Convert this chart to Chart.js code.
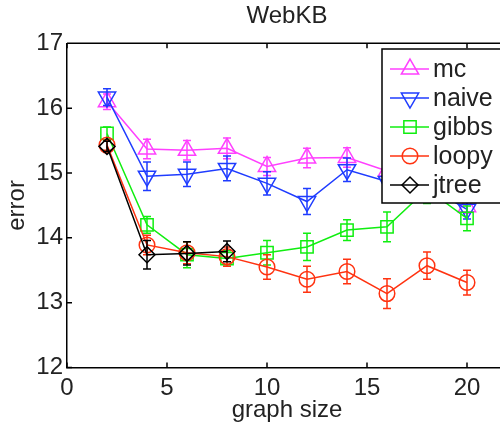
<!DOCTYPE html>
<html>
<head>
<meta charset="utf-8">
<script src="https://cdn.jsdelivr.net/npm/chart.js@4/dist/chart.umd.min.js"></script>
<style>
  html, body { margin: 0; padding: 0; background: #fff; overflow: hidden; }
  #wrap { width: 574px; height: 428px; }
</style>
</head>
<body>
<div id="wrap"><canvas id="myChart"></canvas></div>
<script>
// values
const graphSize = [2, 4, 6, 8, 10, 12, 14, 16, 18, 20];
const xTicks = [0, 5, 10, 15, 20];
const yTicks = [12, 13, 14, 15, 16, 17];

const mc = [16.10, 15.37, 15.35, 15.38, 15.10, 15.23, 15.24, 15.03, 15.05, 14.48];
const mcErr = [0.12, 0.15, 0.15, 0.16, 0.14, 0.15, 0.15, 0.15, 0.15, 0.10];
const naive = [16.17, 14.95, 14.98, 15.07, 14.84, 14.56, 15.05, 14.87, 14.80, 14.44];
const naiveErr = [0.13, 0.22, 0.19, 0.19, 0.18, 0.20, 0.18, 0.20, 0.20, 0.15];
const gibbs = [15.61, 14.20, 13.74, 13.68, 13.77, 13.86, 14.12, 14.17, 14.75, 14.30];
const gibbsErr = [0.10, 0.13, 0.20, 0.12, 0.19, 0.21, 0.16, 0.23, 0.22, 0.19];
const loopy = [15.43, 13.89, 13.77, 13.71, 13.55, 13.36, 13.48, 13.14, 13.57, 13.31];
const loopyErr = [0.08, 0.15, 0.17, 0.15, 0.19, 0.20, 0.19, 0.23, 0.21, 0.19];
const jtree = [15.41, 13.74, 13.76, 13.79];
const jtreeErr = [0.08, 0.22, 0.18, 0.16];

const FONT = "'Liberation Sans', Arial, sans-serif";
const TEXT = '#222';

function pts(ys) {
    return ys.map((v, i) => ({x: graphSize[i], y: v}));
}

function serie(label, ys, errs, color, style, radius, rot, order) {
    return {
        label: label,
        data: pts(ys),
        errors: errs,
        borderColor: color,
        borderWidth: 1.5,
        backgroundColor: 'rgba(0,0,0,0)',
        pointStyle: style,
        pointRadius: radius,
        pointHoverRadius: radius,
        pointRotation: rot,
        pointBorderColor: color,
        pointBackgroundColor: 'rgba(0,0,0,0)',
        pointBorderWidth: 1.5,
        tension: 0,
        order: order
    };
}

const datasets = [
    serie('mc', mc, mcErr, '#ff40ff', 'triangle', 10, 0, 5),
    serie('naive', naive, naiveErr, '#1f3cff', 'triangle', 10, 180, 4),
    serie('gibbs', gibbs, gibbsErr, '#10ee10', 'rect', 8.7, 0, 3),
    serie('loopy', loopy, loopyErr, '#ff3311', 'circle', 7.8, 0, 2),
    serie('jtree', jtree, jtreeErr, '#000000', 'rectRot', 8, 0, 1)
];

// error bars, drawn right after their own line so the stacking matches
const errorBars = {
    id: 'errorBars',
    afterDatasetDraw(chart, args) {
        const ds = chart.data.datasets[args.index];
        const ctx = chart.ctx;
        const x = chart.scales.x, y = chart.scales.y;
        ctx.save();
        ctx.strokeStyle = ds.borderColor;
        ctx.lineWidth = 1.5;
        ds.data.forEach((p, i) => {
            const px = x.getPixelForValue(p.x);
            const top = y.getPixelForValue(p.y + ds.errors[i]);
            const bot = y.getPixelForValue(p.y - ds.errors[i]);
            ctx.beginPath();
            ctx.moveTo(px, top); ctx.lineTo(px, bot);
            ctx.moveTo(px - 4, top); ctx.lineTo(px + 4, top);
            ctx.moveTo(px - 4, bot); ctx.lineTo(px + 4, bot);
            ctx.stroke();
        });
        ctx.restore();
    }
};

// matlab style box: top edge and inward ticks
const frame = {
    id: 'frame',
    beforeDatasetsDraw(chart) {
        const ctx = chart.ctx;
        const a = chart.chartArea;
        const x = chart.scales.x, y = chart.scales.y;
        ctx.save();
        ctx.strokeStyle = '#000';
        ctx.lineWidth = 1.5;
        ctx.beginPath();
        ctx.moveTo(a.left, a.top); ctx.lineTo(a.right, a.top);
        ctx.moveTo(a.right, a.top); ctx.lineTo(a.right, a.bottom);
        xTicks.forEach(t => {
            const px = x.getPixelForValue(t);
            ctx.moveTo(px, a.bottom); ctx.lineTo(px, a.bottom - 5);
            ctx.moveTo(px, a.top); ctx.lineTo(px, a.top + 5);
        });
        yTicks.forEach(t => {
            const py = y.getPixelForValue(t);
            ctx.moveTo(a.left, py); ctx.lineTo(a.left + 5, py);
        });
        ctx.stroke();
        ctx.restore();
    }
};

// legend box in the upper right corner, like the matlab one
const boxLegend = {
    id: 'boxLegend',
    afterDraw(chart) {
        const ctx = chart.ctx;
        const bx = 382, by = 49, bw = 160, bh = 154;
        ctx.save();
        ctx.fillStyle = '#fff';
        ctx.fillRect(bx, by, bw, bh);
        ctx.strokeStyle = '#000';
        ctx.lineWidth = 1.5;
        ctx.strokeRect(bx, by, bw, bh);
        const rowY = [69, 98, 127, 156, 185];
        chart.data.datasets.forEach((ds, i) => {
            const yy = rowY[i];
            ctx.strokeStyle = ds.borderColor;
            ctx.lineWidth = 1.5;
            ctx.beginPath();
            ctx.moveTo(390, yy); ctx.lineTo(429, yy);
            ctx.stroke();
            ctx.fillStyle = 'rgba(0,0,0,0)';
            Chart.helpers.drawPoint(ctx, {
                pointStyle: ds.pointStyle, radius: ds.pointRadius,
                rotation: ds.pointRotation, borderWidth: 1.5
            }, 410, yy);
            ctx.fillStyle = TEXT;
            ctx.font = '25px ' + FONT;
            ctx.textAlign = 'left';
            ctx.textBaseline = 'middle';
            ctx.fillText(ds.label, 433, yy + 1);
        });
        ctx.restore();
    }
};

const ctx = document.getElementById('myChart').getContext('2d');
const myChart = new Chart(ctx, {
    type: 'line',
    data: { datasets: datasets },
    plugins: [errorBars, frame, boxLegend],
    options: {
        responsive: true,
        maintainAspectRatio: false,
        animation: false,
        layout: { padding: { left: 0, right: 67, top: 0, bottom: 0 }, autoPadding: false },
        plugins: {
            legend: { display: false },
            tooltip: { enabled: false },
            title: {
                display: true,
                fullSize: false,   // centre the title over the axes
                text: 'WebKB',
                color: TEXT,
                font: { family: FONT, size: 24, weight: 'normal' },
                padding: { top: 2, bottom: 12.5 }
            }
        },
        scales: {
            x: {
                type: 'linear',
                min: 0,
                max: 22,
                afterFit: (s) => { s.height = 60.5; },
                afterBuildTicks: (s) => { s.ticks = xTicks.map(v => ({value: v})); },
                grid: { drawOnChartArea: false, drawTicks: false },
                border: { display: true, color: '#000', width: 1.5 },
                ticks: { color: TEXT, padding: 6, font: { family: FONT, size: 24 } },
                title: {
                    display: true, text: 'graph size', color: TEXT,
                    font: { family: FONT, size: 24 },
                    padding: { top: 0, bottom: 3 }
                }
            },
            y: {
                min: 12,
                max: 17,
                afterFit: (s) => { s.width = 67; },
                afterBuildTicks: (s) => { s.ticks = yTicks.map(v => ({value: v})); },
                grid: { drawOnChartArea: false, drawTicks: false },
                border: { display: true, color: '#000', width: 1.5 },
                ticks: { color: TEXT, padding: 4, font: { family: FONT, size: 24 } },
                title: {
                    display: true, text: 'error', color: TEXT,
                    font: { family: FONT, size: 24 },
                    padding: { top: 3, bottom: 0 }
                }
            }
        }
    }
});
</script>
</body>
</html>
